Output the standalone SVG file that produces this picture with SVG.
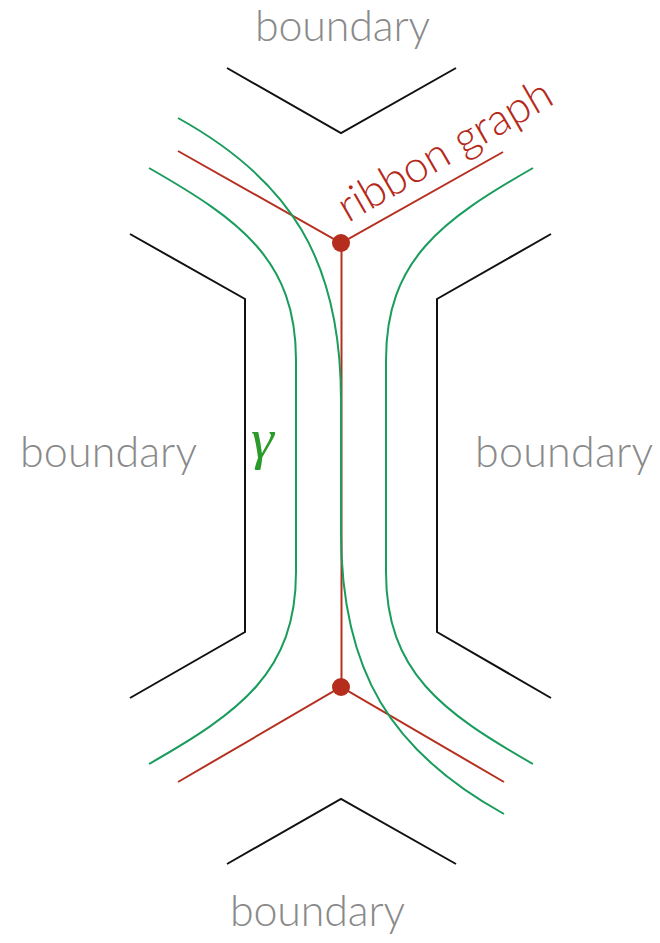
<svg xmlns="http://www.w3.org/2000/svg" width="660" height="943" viewBox="0 0 660 943">
<style>
.bd{fill:none;stroke:#111;stroke-width:2;}
.rb{fill:none;stroke:#b5301f;stroke-width:2;}
.gc{fill:none;stroke:#1a9c5c;stroke-width:2;}
.lbl{font-family:Lato,"Open Sans","Liberation Sans",sans-serif;font-weight:300;font-size:43px;fill:#8a8a8a;}
.rl{font-family:Lato,"Open Sans","Liberation Sans",sans-serif;font-weight:300;font-size:44px;fill:#b5291a;}
.gm{font-family:"Liberation Serif","DejaVu Serif",serif;font-style:italic;font-size:58px;fill:#2a9a2a;}
</style>
<rect width="660" height="943" fill="#fff"/>
<g id="boundary-top">
<polyline class="bd" points="227,68 341,133 456,68"/>
<text class="lbl" x="255" y="41" textLength="175">boundary</text>
</g>
<g id="boundary-left">
<polyline class="bd" points="130,234 245,299 245,632 130,698"/>
<text class="lbl" x="20" y="467" textLength="177">boundary</text>
</g>
<g id="boundary-right">
<polyline class="bd" points="551,234 437,299 437,632 551,698"/>
<text class="lbl" x="475" y="467" textLength="178">boundary</text>
</g>
<g id="boundary-bottom">
<polyline class="bd" points="227,864 341,799 456,864"/>
<text class="lbl" x="230" y="926" textLength="175">boundary</text>
</g>
<g id="connectors">
<polyline class="rb" points="178,151 341,243 503,152"/>
<line class="rb" x1="341.5" y1="243" x2="341.5" y2="687"/>
<polyline class="rb" points="178,782 341,687 504,782"/>
<path class="gc" d="M149,168 C240,220 296,260 296,360 L296,572 C296,672 240,712 149,764"/>
<path class="gc" d="M533,168 C442,220 386,260 386,360 L386,572 C386,672 442,712 533,764"/>
<path class="gc" d="M178,118 C290,180 341,260 341,400 L341,532 C341,672 392,752 504,814"/>
</g>
<g id="vertex-top"><circle cx="341" cy="243" r="9" fill="#b52d1c"/></g>
<g id="vertex-bottom"><circle cx="341" cy="687" r="9" fill="#b52d1c"/></g>
<g id="label-ribbon-graph">
<text class="rl" transform="translate(348,223) rotate(-30)" textLength="240">ribbon graph</text>
</g>
<g id="label-gamma">
<text class="gm" x="251" y="458">γ</text>
</g>
</svg>
